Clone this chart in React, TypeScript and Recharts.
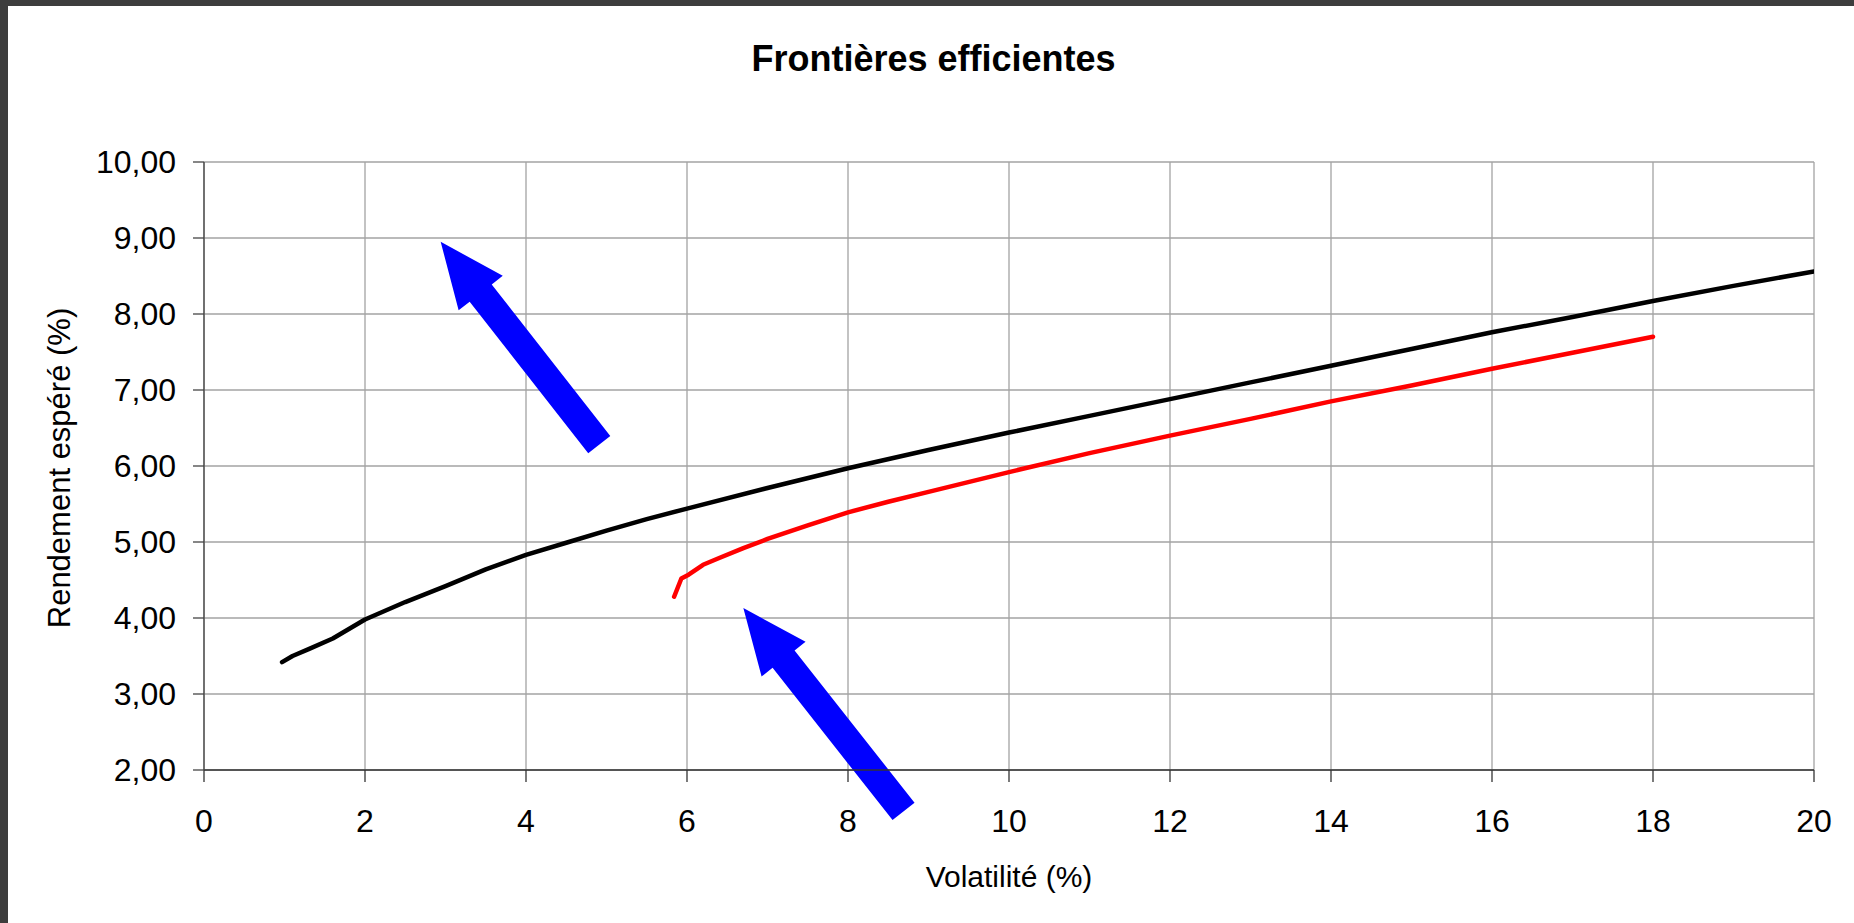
import React from 'react';
import { LineChart, Line, XAxis, YAxis, CartesianGrid, ReferenceLine } from 'recharts';

// ---- data ----
const blackVol = [0.97, 1.1, 1.3, 1.6, 2.0, 2.5, 3.0, 3.5, 4.0, 4.5, 5.0, 5.5, 6.0, 7.0, 8.0, 9.0, 10.0, 11.0, 12.0, 13.0, 14.0, 15.0, 16.0, 17.0, 18.0, 19.0, 20.0];
const blackRet = [3.42, 3.5, 3.59, 3.73, 3.98, 4.21, 4.42, 4.64, 4.83, 4.99, 5.15, 5.3, 5.44, 5.71, 5.97, 6.21, 6.44, 6.66, 6.88, 7.1, 7.32, 7.54, 7.76, 7.96, 8.17, 8.37, 8.56];

const redVol = [5.84, 5.93, 6.02, 6.2, 6.4, 6.7, 7.0, 7.5, 8.0, 8.5, 9.0, 10.0, 11.0, 12.0, 13.0, 14.0, 15.0, 16.0, 17.0, 18.0];
const redRet = [4.28, 4.52, 4.57, 4.7, 4.79, 4.92, 5.04, 5.22, 5.39, 5.53, 5.66, 5.92, 6.17, 6.4, 6.62, 6.85, 7.06, 7.28, 7.49, 7.7];

const xTicks = [0, 2, 4, 6, 8, 10, 12, 14, 16, 18, 20];
const yTicks = [2, 3, 4, 5, 6, 7, 8, 9, 10];

// arrows: [tail, tip] in data coordinates (volatility, return)
const arrowUpper = [{ x: 4.91, y: 6.28 }, { x: 2.94, y: 8.95 }];
const arrowLower = [{ x: 8.69, y: 1.455 }, { x: 6.7, y: 4.13 }];

const titleText = 'Frontières efficientes';
const xLabelText = 'Volatilité (%)';
const yLabelText = 'Rendement espéré (%)';

const blackData = blackVol.map((x, i) => ({ x, y: blackRet[i] }));
const redData = redVol.map((x, i) => ({ x, y: redRet[i] }));

const W = 1854;
const H = 923;
const FONT = '"Liberation Sans", Arial, Helvetica, sans-serif';

function ArrowShape(props: any) {
  const { x1, y1, x2, y2 } = props;
  if ([x1, y1, x2, y2].some((v) => typeof v !== 'number' || isNaN(v))) return null;
  const dx = x2 - x1;
  const dy = y2 - y1;
  const len = Math.sqrt(dx * dx + dy * dy) || 1;
  const ux = dx / len;
  const uy = dy / len;
  const nx = -uy;
  const ny = ux;
  const headLen = 65;
  const headHalf = 28;
  const shaftHalf = 14;
  const bx = x2 - ux * headLen;
  const by = y2 - uy * headLen;
  const pts = [
    [x2, y2],
    [bx + nx * headHalf, by + ny * headHalf],
    [bx + nx * shaftHalf, by + ny * shaftHalf],
    [x1 + nx * shaftHalf, y1 + ny * shaftHalf],
    [x1 - nx * shaftHalf, y1 - ny * shaftHalf],
    [bx - nx * shaftHalf, by - ny * shaftHalf],
    [bx - nx * headHalf, by - ny * headHalf],
  ];
  return <polygon points={pts.map((p) => p.join(',')).join(' ')} fill="#0000ff" stroke="none" />;
}

const fmtY = (v: number) => v.toFixed(2).replace('.', ',');

export default function App() {
  return (
    <div style={{ position: 'absolute', left: 0, top: 0, width: W, height: H, background: '#3d3d3d', overflow: 'hidden' }}>
      <div style={{ position: 'absolute', left: 8, top: 6, right: 0, bottom: 0, background: '#ffffff' }} />
      <div style={{ position: 'absolute', left: 0, top: 0 }}>
        <LineChart width={W} height={H} margin={{ top: 162, right: 40, bottom: 0, left: 0 }}>
          <CartesianGrid stroke="#a3a3a3" strokeWidth={1.3} horizontalValues={yTicks} verticalValues={xTicks} />
          <XAxis
            type="number"
            dataKey="x"
            domain={[0, 20]}
            ticks={xTicks}
            allowDataOverflow
            height={153}
            tickSize={12}
            tickMargin={27}
            stroke="#333333"
            strokeWidth={1.3}
            tick={{ fill: '#000000', fontSize: 32, fontFamily: FONT }}
            label={{
              content: (p: any) => {
                const vb = p.viewBox || { x: 204, y: 770, width: 1610, height: 153 };
                return (
                  <text x={vb.x + vb.width / 2} y={vb.y + 117} textAnchor="middle" fontSize={30} fontFamily={FONT} fill="#000">
                    {xLabelText}
                  </text>
                );
              },
            }}
          />
          <YAxis
            type="number"
            dataKey="y"
            domain={[2, 10]}
            ticks={yTicks}
            allowDataOverflow
            width={204}
            tickSize={11}
            tickMargin={17}
            stroke="#444444"
            strokeWidth={1.3}
            tickFormatter={fmtY}
            tick={{ fill: '#000000', fontSize: 32, fontFamily: FONT }}
            label={{
              content: (p: any) => {
                const vb = p.viewBox || { x: 0, y: 162, width: 204, height: 608 };
                const cx = vb.x + 70;
                const cy = vb.y + vb.height / 2 + 2;
                return (
                  <text x={cx} y={cy} transform={`rotate(-90, ${cx}, ${cy})`} textAnchor="middle" fontSize={31} fontFamily={FONT} fill="#000">
                    {yLabelText}
                  </text>
                );
              },
            }}
          />
          <Line data={blackData} dataKey="y" type="linear" stroke="#000000" strokeWidth={4.5} strokeLinejoin="round" strokeLinecap="round" dot={false} activeDot={false} isAnimationActive={false} />
          <Line data={redData} dataKey="y" type="linear" stroke="#ff0000" strokeWidth={4.5} strokeLinejoin="round" strokeLinecap="round" dot={false} activeDot={false} isAnimationActive={false} />
          <ReferenceLine segment={arrowUpper} ifOverflow="visible" shape={ArrowShape} />
          <ReferenceLine segment={arrowLower} ifOverflow="visible" shape={ArrowShape} />
        </LineChart>
      </div>
      <svg width={W} height={H} style={{ position: 'absolute', left: 0, top: 0, pointerEvents: 'none' }}>
        <text x={933.5} y={70.5} textAnchor="middle" fontSize={36} fontWeight="bold" fontFamily={FONT} fill="#000">
          {titleText}
        </text>
      </svg>
    </div>
  );
}
